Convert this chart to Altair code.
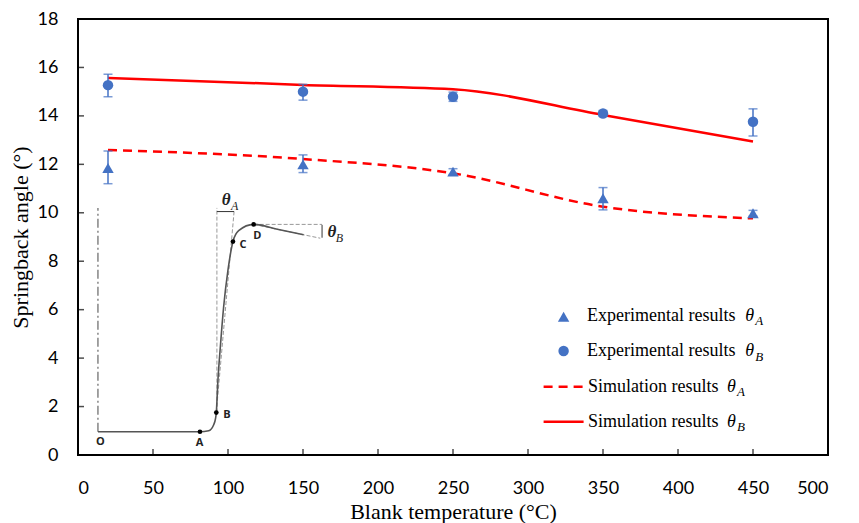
import altair as alt
import pandas as pd

# ---------------- data ----------------
temps = [20, 150, 250, 350, 450]
exp_A = [11.85, 12.0, 11.7, 10.6, 9.98]
exp_A_lo = [11.2, 11.66, 11.58, 10.12, 9.86]
exp_A_hi = [12.55, 12.39, 11.82, 11.04, 10.1]
exp_B = [15.27, 15.0, 14.79, 14.1, 13.76]
exp_B_lo = [14.79, 14.65, 14.6, 13.98, 13.17]
exp_B_hi = [15.72, 15.3, 14.98, 14.22, 14.29]
sim_A = [12.59, 12.22, 11.63, 10.25, 9.77]
sim_B = [15.57, 15.28, 15.1, 14.04, 12.94]

x_ticks = [0, 50, 100, 150, 200, 250, 300, 350, 400, 450, 500]
y_ticks = [0, 2, 4, 6, 8, 10, 12, 14, 16, 18]

# inset schematic (drawn in the chart's data space)
inset_x = [13.3, 81.3, 87.1, 90.4, 91.7, 92.2, 93.3, 94.9, 97.1, 100.0, 103.3, 107.1, 117.1, 133.7, 150.4]
inset_y = [0.96, 0.96, 1.00, 1.24, 1.51, 1.75, 3.10, 4.47, 6.12, 7.64, 8.81, 9.26, 9.52, 9.31, 9.09]
axis_line_x = [13.3, 13.3]
axis_line_y = [0.96, 10.2]
pt_names = ["A", "B", "C", "D"]
pt_x = [81.3, 92.2, 103.3, 117.1]
pt_y = [0.96, 1.75, 8.81, 9.52]
lab_names = ["O", "A", "B", "C", "D"]
lab_x = [14.9, 81.0, 99.3, 110.0, 119.6]
lab_y = [0.55, 0.5, 1.65, 8.67, 9.04]
guide_x1 = [92.6, 92.2, 117.1, 117.1]
guide_y1 = [1.75, 1.75, 9.52, 9.52]
guide_x2 = [92.6, 104.2, 162.7, 161.5]
guide_y2 = [10.2, 10.15, 9.52, 8.95]
arrow_x1 = [92.6, 162.7]
arrow_y1 = [10.05, 9.50]
arrow_x2 = [104.0, 162.7]
arrow_y2 = [10.05, 8.97]

W, H = 750, 436
BLUE = "#4472C4"
RED = "#FF0000"

xs = alt.Scale(domain=[0, 500], nice=False, zero=False)
ys = alt.Scale(domain=[0, 18], nice=False, zero=False)
xaxis = alt.Axis(values=x_ticks, grid=False, ticks=False, domain=False,
                 labelFont="Lato", labelFontSize=18, labelColor="black",
                 labelPadding=24, title="Blank temperature (°C)",
                 titleFont="Liberation Serif", titleFontSize=22,
                 titleFontWeight="normal", titleColor="black", titlePadding=4)
yaxis = alt.Axis(values=y_ticks, grid=False, ticks=False, domain=False,
                 labelFont="Lato", labelFontSize=18, labelColor="black",
                 labelPadding=20, title="Springback angle (°)",
                 titleFont="Liberation Serif", titleFontSize=22,
                 titleFontWeight="normal", titleColor="black", titlePadding=5)


def X(f):
    return alt.X(f, type="quantitative", scale=xs, axis=xaxis)


def Y(f):
    return alt.Y(f, type="quantitative", scale=ys, axis=yaxis)


exp_df = pd.DataFrame({"t": temps, "a": exp_A, "alo": exp_A_lo, "ahi": exp_A_hi,
                       "b": exp_B, "blo": exp_B_lo, "bhi": exp_B_hi})
sim_df = pd.DataFrame({"t": temps, "a": sim_A, "b": sim_B})
curve_df = pd.DataFrame({"x": inset_x, "y": inset_y})
axl_df = pd.DataFrame({"x": axis_line_x, "y": axis_line_y})
pts_df = pd.DataFrame({"n": pt_names, "x": pt_x, "y": pt_y})
lab_df = pd.DataFrame({"n": lab_names, "x": lab_x, "y": lab_y})
guide_df = pd.DataFrame({"x": guide_x1, "y": guide_y1, "x2": guide_x2, "y2": guide_y2})
arrow_df = pd.DataFrame({"x": arrow_x1, "y": arrow_y1, "x2": arrow_x2, "y2": arrow_y2})

layers = []

# inset schematic
layers.append(alt.Chart(axl_df).mark_line(color="#666666", strokeWidth=1.2,
                                          strokeDash=[9, 3, 2, 3]).encode(x=X("x"), y=Y("y")))
layers.append(alt.Chart(guide_df).mark_rule(color="#999999", strokeWidth=1,
                                            strokeDash=[4, 2]).encode(
    x=X("x"), y=Y("y"), x2="x2", y2="y2"))
layers.append(alt.Chart(arrow_df).mark_rule(color="#333333", strokeWidth=1).encode(
    x=X("x"), y=Y("y"), x2="x2", y2="y2"))
layers.append(alt.Chart(curve_df).mark_line(color="#555555", strokeWidth=1.6,
                                            interpolate="monotone").encode(x=X("x"), y=Y("y")))
layers.append(alt.Chart(pts_df).mark_point(filled=True, color="black", size=22,
                                           opacity=1).encode(x=X("x"), y=Y("y")))
layers.append(alt.Chart(lab_df).mark_text(font="Open Sans", fontWeight="bold", fontSize=11,
                                          color="#222222").encode(x=X("x"), y=Y("y"), text="n"))
theta_df = pd.DataFrame({"x": [98.7, 169.3], "y": [10.53, 9.22], "s": ["θ", "θ"]})
sub_df = pd.DataFrame({"x": [104.4, 174.2], "y": [10.3, 8.96], "s": ["A", "B"]})
layers.append(alt.Chart(theta_df).mark_text(font="Liberation Serif", fontStyle="italic",
                                            fontWeight="bold", fontSize=17, color="#222222").encode(
    x=X("x"), y=Y("y"), text="s"))
layers.append(alt.Chart(sub_df).mark_text(font="Liberation Serif", fontStyle="italic",
                                          fontSize=12, color="#222222").encode(
    x=X("x"), y=Y("y"), text="s"))

# simulation lines
layers.append(alt.Chart(sim_df).mark_line(color=RED, strokeWidth=2.5,
                                          interpolate="monotone").encode(x=X("t"), y=Y("b")))
layers.append(alt.Chart(sim_df).mark_line(color=RED, strokeWidth=2.5, strokeDash=[9, 6],
                                          interpolate="monotone").encode(x=X("t"), y=Y("a")))

# error bars
for lo, hi in (("alo", "ahi"), ("blo", "bhi")):
    layers.append(alt.Chart(exp_df).mark_rule(color=BLUE, strokeWidth=1.5).encode(
        x=X("t"), y=Y(lo), y2=hi))
    for f in (lo, hi):
        layers.append(alt.Chart(exp_df).mark_tick(color=BLUE, size=9, thickness=1.5,
                                                  orient="horizontal").encode(x=X("t"), y=Y(f)))

# experimental points
layers.append(alt.Chart(exp_df).mark_point(shape="triangle-up", filled=True, color=BLUE,
                                           size=130, opacity=1).encode(x=X("t"), y=Y("a")))
layers.append(alt.Chart(exp_df).mark_point(shape="circle", filled=True, color=BLUE,
                                           size=110, opacity=1).encode(x=X("t"), y=Y("b")))

# inward ticks
xt_df = pd.DataFrame({"v": x_ticks[1:-1]})
yt_df = pd.DataFrame({"v": y_ticks[1:-1]})
layers.append(alt.Chart(xt_df).mark_tick(color="black", size=6, thickness=1.5,
                                         orient="vertical").encode(x=X("v"), y=alt.value(H - 3)))
layers.append(alt.Chart(yt_df).mark_tick(color="black", size=6, thickness=1.5,
                                         orient="horizontal").encode(y=Y("v"), x=alt.value(3)))

# legend (pixel positions)
dummy = pd.DataFrame({"k": [0]})


def vtext(s, x, y, size=18, style="normal"):
    return alt.Chart(dummy).mark_text(text=s, font="Liberation Serif", fontSize=size,
                                      fontStyle=style, align="left", baseline="alphabetic",
                                      color="black").encode(x=alt.value(x), y=alt.value(y))


layers.append(alt.Chart(dummy).mark_point(shape="triangle-up", filled=True, color=BLUE,
                                          size=130, opacity=1).encode(
    x=alt.value(485.6), y=alt.value(297.7)))
layers.append(alt.Chart(dummy).mark_point(shape="circle", filled=True, color=BLUE,
                                          size=110, opacity=1).encode(
    x=alt.value(485.6), y=alt.value(332)))
layers.append(alt.Chart(dummy).mark_rule(color=RED, strokeWidth=2.5, strokeDash=[9, 6]).encode(
    x=alt.value(465.6), x2=alt.value(505.6), y=alt.value(367.7)))
layers.append(alt.Chart(dummy).mark_rule(color=RED, strokeWidth=2.5).encode(
    x=alt.value(465.6), x2=alt.value(505.6), y=alt.value(402.7)))

rows = [("Experimental results", 509, 301.7, 667.3, "A"),
        ("Experimental results", 509, 337.0, 667.3, "B"),
        ("Simulation results", 510, 372.7, 649.0, "A"),
        ("Simulation results", 510, 407.7, 649.0, "B")]
for label, tx, ty, thx, sub in rows:
    layers.append(vtext(label, tx, ty))
    layers.append(vtext("θ", thx, ty, 18, "italic"))
    layers.append(vtext(sub, thx + 10, ty + 4.5, 13, "italic"))

chart = alt.layer(*layers).properties(
    width=W, height=H,
    autosize=alt.AutoSizeParams(type="none"),
    padding={"left": 78, "top": 19, "right": 31, "bottom": 68},
    background="white",
).configure_view(stroke="black", strokeWidth=2)

chart.save("out.html", embed_options={"renderer": "svg", "actions": False})
